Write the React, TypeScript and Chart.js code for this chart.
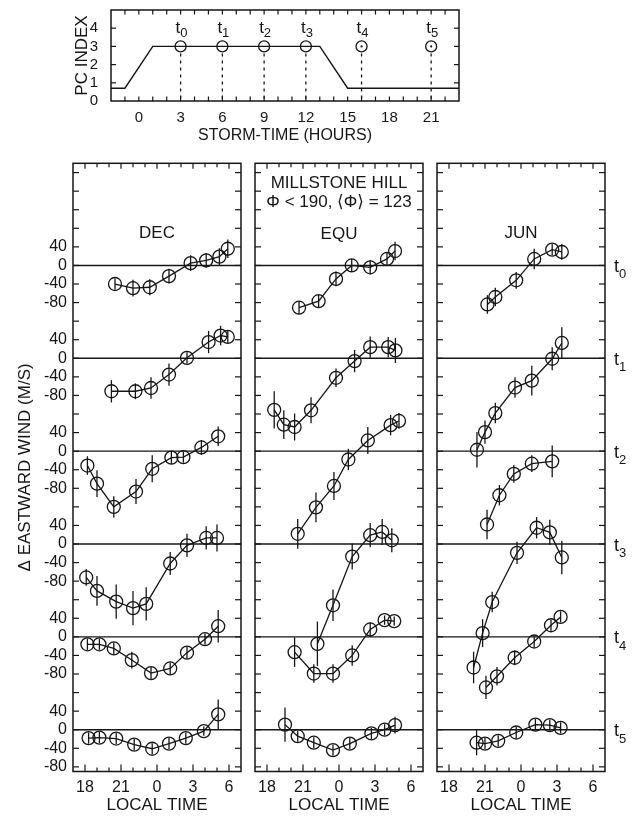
import React, { useEffect, useRef } from "react";
import { Chart, registerables } from "chart.js";

Chart.register(...registerables);

const FONT_FAMILY = '"Liberation Sans", Arial, Helvetica, "DejaVu Sans", sans-serif';
const INK = "#161616";

// ---------------- top panel: PC index vs storm time ----------------
const stormHours = [-2, -1, 1, 13, 15, 23];
const pcIndexValues = [0.7, 0.7, 3, 3, 0.7, 0.7];
const sampleHours = [3, 6, 9, 12, 16, 21];
const sampleIndex = [3, 3, 3, 3, 3, 3];
const sampleNames = ["0", "1", "2", "3", "4", "5"];
const sampleDotted = [false, false, false, false, true, true];
const stormTickValues = [0, 3, 6, 9, 12, 15, 18, 21];
const pcTickValues = [0, 1, 2, 3, 4];

// ---------------- bottom panels: delta eastward wind vs local time ----------------
const slotStep = 200; // vertical offset between stacked storm-time slots (m/s)
const slotNames = ["0", "1", "2", "3", "4", "5"];
const localTickValues = [18, 21, 24, 27, 30];
const windLabelValues = [40, 0, -40, -80];

const decHours = [
  [20.5, 22.0, 23.4, 25.0, 26.8, 28.1, 29.2, 29.9],
  [20.2, 22.2, 23.5, 25.0, 26.5, 28.3, 29.3, 29.9],
  [18.2, 19.0, 20.4, 22.25, 23.6, 25.2, 26.2, 27.7, 29.1],
  [18.1, 19.0, 20.6, 22.0, 23.1, 25.1, 26.5, 28.1, 29.0],
  [18.2, 19.2, 20.4, 21.9, 23.5, 25.1, 26.5, 28.0, 29.1],
  [18.3, 19.2, 20.6, 22.1, 23.6, 25.0, 26.4, 27.9, 29.1],
];
const decWind = [
  [-40, -49, -47, -23, 5, 11, 19, 36],
  [-71, -71, -64, -35, 1, 35, 49, 46],
  [-31, -70, -120, -87, -38, -14, -13, 8, 32],
  [-72, -101, -124, -138, -129, -42, -3, 13, 13],
  [-16, -16, -25, -50, -78, -68, -34, -5, 23],
  [-18, -17, -19, -32, -41, -30, -18, -3, 33],
];
const decErr = [
  [12, 18, 17, 16, 17, 16, 18, 20],
  [24, 17, 23, 24, 12, 24, 21, 14],
  [20, 29, 23, 27, 29, 14, 12, 16, 21],
  [18, 32, 37, 37, 36, 25, 25, 25, 29],
  [12, 12, 13, 18, 13, 13, 13, 12, 35],
  [12, 12, 12, 12, 12, 12, 12, 10, 32],
];

const equHours = [
  [20.67, 22.3, 23.75, 25.06, 26.6, 28.0, 28.67],
  [18.6, 19.4, 20.3, 21.67, 23.75, 25.3, 26.6, 28.1, 28.7],
  [20.56, 22.08, 23.58, 24.78, 26.4, 28.3, 29.0],
  [22.2, 23.5, 25.1, 26.6, 27.6, 28.4],
  [20.3, 21.9, 23.5, 25.1, 26.6, 27.8, 28.6],
  [19.5, 20.56, 21.9, 23.5, 24.9, 26.7, 27.8, 28.67],
];
const equWind = [
  [-91, -77, -29, 0, -4, 14, 31],
  [-111, -143, -148, -112, -42, -6, 24, 24, 17],
  [-178, -121, -75, -18, 23, 56, 65],
  [-215, -132, -27, 19, 26, 8],
  [-33, -79, -79, -40, 16, 36, 34],
  [11, -14, -28, -44, -30, -8, 0, 10],
];
const equErr = [
  [14, 14, 16, 14, 15, 14, 20],
  [40, 31, 29, 28, 20, 24, 23, 22, 27],
  [32, 32, 30, 23, 29, 22, 17],
  [48, 34, 28, 26, 28, 26],
  [32, 20, 20, 22, 15, 10, 10],
  [37, 12, 12, 12, 12, 12, 12, 18],
];

const junHours = [
  [21.2, 21.86, 23.6, 25.1, 26.6, 27.4],
  [20.33, 21.0, 21.86, 23.5, 24.9, 26.6, 27.4],
  [21.17, 22.2, 23.4, 24.9, 26.6],
  [20.05, 20.8, 21.6, 23.67, 25.3, 26.4, 27.4],
  [21.08, 22.0, 23.47, 25.1, 26.5, 27.3],
  [20.3, 21.0, 22.1, 23.6, 25.2, 26.4, 27.3],
];
const junWind = [
  [-84, -68, -32, 14, 34, 29],
  [-197, -159, -118, -63, -48, -1, 33],
  [-158, -95, -49, -27, -22],
  [-266, -192, -125, -19, 35, 25, -29],
  [-109, -85, -45, -10, 25, 43],
  [-28, -30, -24, -6, 11, 10, 4],
];
const junErr = [
  [20, 20, 18, 22, 12, 17],
  [38, 25, 22, 22, 32, 25, 34],
  [32, 22, 19, 18, 34],
  [34, 30, 22, 24, 23, 27, 36],
  [25, 20, 16, 12, 12, 12],
  [27, 12, 12, 12, 12, 12, 12],
];

const decNotes = ["DEC"];
const equNotes = ["MILLSTONE HILL", "\u03A6 < 190, \u27E8\u03A6\u27E9 = 123", "EQU"];
const junNotes = ["JUN"];

// ---------------- layout (page px) ----------------
const PAGE_W = 640;
const TOP_H = 150;
const BOTTOM_TOP = 150;
const BOTTOM_H = 666;

type Panel = {
  hours: number[][];
  wind: number[][];
  err: number[][];
  notes: string[];
  noteOffsets: number[];
  left: number;
  right: number;
  showAxis: boolean;
  showSlots: boolean;
};

const panels: Panel[] = [
  { hours: decHours, wind: decWind, err: decErr, notes: decNotes, noteOffsets: [70], left: 73, right: 241, showAxis: true, showSlots: false },
  { hours: equHours, wind: equWind, err: equErr, notes: equNotes, noteOffsets: [20, 39.5, 71.5], left: 255, right: 423, showAxis: false, showSlots: false },
  { hours: junHours, wind: junWind, err: junErr, notes: junNotes, noteOffsets: [70], left: 437, right: 605, showAxis: false, showSlots: true },
];

const font = (size: number) => ({ family: FONT_FAMILY, size, weight: "normal" as const });

function drawSubLabel(ctx: CanvasRenderingContext2D, x: number, yBase: number, sub: string, tSize: number, subSize: number, subDrop: number, align: "left" | "center") {
  ctx.save();
  ctx.fillStyle = INK;
  ctx.textBaseline = "alphabetic";
  ctx.textAlign = "left";
  ctx.font = `${tSize}px ${FONT_FAMILY}`;
  const tw = ctx.measureText("t").width;
  ctx.font = `${subSize}px ${FONT_FAMILY}`;
  const sw = ctx.measureText(sub).width;
  let x0 = x;
  if (align === "center") x0 = x - (tw + sw) / 2 + 1;
  ctx.font = `${tSize}px ${FONT_FAMILY}`;
  ctx.fillText("t", x0, yBase);
  ctx.font = `${subSize}px ${FONT_FAMILY}`;
  ctx.fillText(sub, x0 + tw, yBase + subDrop);
  ctx.restore();
}

function strokeLine(ctx: CanvasRenderingContext2D, x1: number, y1: number, x2: number, y2: number) {
  ctx.beginPath();
  ctx.moveTo(x1, y1);
  ctx.lineTo(x2, y2);
  ctx.stroke();
}

function noPadX(s: any) {
  s.paddingLeft = 0;
  s.paddingRight = 0;
}
function noPadY(s: any) {
  s.paddingTop = 0;
  s.paddingBottom = 0;
}

function topConfig(): any {
  const deco = {
    id: "topDeco",
    afterDatasetsDraw(chart: any) {
      const { ctx, chartArea: a, scales } = chart;
      const xs = scales.x;
      const ys = scales.y;
      ctx.save();
      ctx.strokeStyle = INK;
      ctx.lineWidth = 1.5;
      ctx.strokeRect(a.left, a.top, a.right - a.left, a.bottom - a.top);
      ctx.lineWidth = 1.2;
      for (let h = -1; h <= 22; h++) {
        const px = xs.getPixelForValue(h);
        strokeLine(ctx, px, a.top, px, a.top + 4.5);
        strokeLine(ctx, px, a.bottom, px, a.bottom - 4.5);
      }
      for (let v = 1; v <= 4; v++) {
        const py = ys.getPixelForValue(v);
        strokeLine(ctx, a.left, py, a.left + 5, py);
        strokeLine(ctx, a.right, py, a.right - 5, py);
      }
      // dotted drop lines from each sample circle
      ctx.setLineDash([3, 4]);
      ctx.lineWidth = 1.3;
      sampleHours.forEach((h, i) => {
        const px = xs.getPixelForValue(h);
        const py = ys.getPixelForValue(sampleIndex[i]);
        strokeLine(ctx, px, py + 7, px, a.bottom);
      });
      ctx.setLineDash([]);
      sampleHours.forEach((h, i) => {
        const px = xs.getPixelForValue(h);
        const py = ys.getPixelForValue(sampleIndex[i]);
        if (sampleDotted[i]) {
          ctx.fillStyle = INK;
          ctx.beginPath();
          ctx.arc(px, py, 1.1, 0, Math.PI * 2);
          ctx.fill();
        }
        drawSubLabel(ctx, px, py - 13, sampleNames[i], 17, 13, 3.5, "center");
      });
      ctx.restore();
    },
  };
  return {
    type: "line",
    data: {
      datasets: [
        {
          data: stormHours.map((h, i) => ({ x: h, y: pcIndexValues[i] })),
          borderColor: INK,
          borderWidth: 1.4,
          pointRadius: 0,
          tension: 0,
          fill: false,
        },
        {
          data: sampleHours.map((h, i) => ({ x: h, y: sampleIndex[i] })),
          showLine: false,
          pointRadius: 5.5,
          pointBorderWidth: 1.3,
          pointBorderColor: INK,
          pointBackgroundColor: "rgba(0,0,0,0)",
        },
      ],
    },
    options: {
      responsive: false,
      animation: false,
      devicePixelRatio: 1,
      events: [],
      layout: { padding: { left: 0, right: PAGE_W - 459, top: 10, bottom: 0 } },
      plugins: { legend: { display: false }, tooltip: { enabled: false } },
      scales: {
        x: {
          type: "linear",
          min: -2,
          max: 23,
          afterBuildTicks: (s: any) => {
            s.ticks = stormTickValues.map((v) => ({ value: v }));
          },
          afterFit: (s: any) => {
            s.height = TOP_H - 101;
            noPadX(s);
          },
          grid: { display: false, drawTicks: false },
          border: { display: false },
          ticks: { font: font(15), color: INK, padding: 8, maxRotation: 0, autoSkip: false },
          title: { display: true, text: "STORM-TIME (HOURS)", font: font(16), color: INK, padding: { top: 0, bottom: 5 } },
        },
        y: {
          type: "linear",
          min: 0,
          max: 5,
          afterBuildTicks: (s: any) => {
            s.ticks = pcTickValues.map((v) => ({ value: v }));
          },
          afterFit: (s: any) => {
            s.width = 111;
            noPadY(s);
          },
          grid: { display: false, drawTicks: false },
          border: { display: false },
          ticks: { font: font(15), color: INK, padding: 13, autoSkip: false },
          title: { display: true, text: "PC INDEX", font: font(17), color: INK, padding: { top: 72, bottom: 0 } },
        },
      },
    },
    plugins: [deco],
  };
}

function panelConfig(p: Panel): any {
  const deco = {
    id: "panelDeco",
    beforeDatasetsDraw(chart: any) {
      const { ctx, chartArea: a, scales } = chart;
      const xs = scales.x;
      const ys = scales.y;
      ctx.save();
      ctx.strokeStyle = INK;
      ctx.lineWidth = 1.4;
      for (let k = 0; k < slotNames.length; k++) {
        const py = ys.getPixelForValue(-slotStep * k);
        strokeLine(ctx, a.left, py, a.right, py);
      }
      ctx.lineWidth = 1.3;
      p.hours.forEach((hs, k) => {
        hs.forEach((h, i) => {
          const px = xs.getPixelForValue(h);
          const v = p.wind[k][i] - slotStep * k;
          const e = p.err[k][i];
          strokeLine(ctx, px, ys.getPixelForValue(v - e), px, ys.getPixelForValue(v + e));
        });
      });
      ctx.restore();
    },
    afterDatasetsDraw(chart: any) {
      const { ctx, chartArea: a, scales } = chart;
      const xs = scales.x;
      const ys = scales.y;
      ctx.save();
      ctx.strokeStyle = INK;
      ctx.lineWidth = 1.5;
      ctx.strokeRect(a.left, a.top, a.right - a.left, a.bottom - a.top);
      ctx.lineWidth = 1.2;
      for (let h = 18; h <= 30; h++) {
        const px = xs.getPixelForValue(h);
        const len = h % 3 === 0 ? 7 : 4;
        strokeLine(ctx, px, a.bottom, px, a.bottom - len);
        strokeLine(ctx, px, a.top, px, a.top + (h % 3 === 0 ? 5.5 : 4));
      }
      for (let v = -1080; v <= 200; v += 40) {
        const py = ys.getPixelForValue(v);
        strokeLine(ctx, a.left, py, a.left + 6, py);
        strokeLine(ctx, a.right, py, a.right - 6, py);
      }
      ctx.fillStyle = INK;
      ctx.textAlign = "center";
      ctx.textBaseline = "middle";
      ctx.font = `17px ${FONT_FAMILY}`;
      const cx = (a.left + a.right) / 2;
      p.notes.forEach((t, i) => {
        ctx.fillText(t, cx, a.top + p.noteOffsets[i]);
      });
      if (p.showSlots) {
        slotNames.forEach((s, k) => {
          const py = ys.getPixelForValue(-slotStep * k);
          drawSubLabel(ctx, a.right + 9, py + 6.5, s, 18, 13, 6.5, "left");
        });
      }
      ctx.restore();
    },
  };

  const windTicks: number[] = [];
  for (let k = 0; k < slotNames.length; k++) {
    windLabelValues.forEach((v) => windTicks.push(v - slotStep * k));
  }

  return {
    type: "line",
    data: {
      datasets: p.hours.map((hs, k) => ({
        data: hs.map((h, i) => ({ x: h, y: p.wind[k][i] - slotStep * k })),
        borderColor: INK,
        borderWidth: 1.3,
        pointRadius: 6.5,
        pointBorderWidth: 1.3,
        pointBorderColor: INK,
        pointBackgroundColor: "rgba(0,0,0,0)",
        tension: 0,
        fill: false,
      })),
    },
    options: {
      responsive: false,
      animation: false,
      devicePixelRatio: 1,
      events: [],
      layout: { padding: { left: 0, right: PAGE_W - p.right, top: 163.3 - BOTTOM_TOP, bottom: 0 } },
      plugins: { legend: { display: false }, tooltip: { enabled: false } },
      scales: {
        x: {
          type: "linear",
          min: 17,
          max: 31,
          afterBuildTicks: (s: any) => {
            s.ticks = localTickValues.map((v) => ({ value: v }));
          },
          afterFit: (s: any) => {
            s.height = BOTTOM_TOP + BOTTOM_H - 771.5;
            noPadX(s);
          },
          grid: { display: false, drawTicks: false },
          border: { display: false },
          ticks: {
            font: font(16),
            color: INK,
            padding: 6,
            maxRotation: 0,
            autoSkip: false,
            callback: (v: any) => String(Number(v) % 24),
          },
          title: { display: true, text: "LOCAL TIME", font: font(17), color: INK, padding: { top: 0, bottom: 0 } },
        },
        y: {
          type: "linear",
          min: -1090,
          max: 220,
          afterBuildTicks: (s: any) => {
            s.ticks = windTicks.map((v) => ({ value: v }));
          },
          afterFit: (s: any) => {
            s.width = p.left;
            noPadY(s);
          },
          grid: { display: false, drawTicks: false },
          border: { display: false },
          ticks: {
            display: p.showAxis,
            font: font(16),
            color: INK,
            padding: 6,
            autoSkip: false,
            callback: (v: any) => {
              const n = Number(v);
              const k = Math.round(-n / slotStep);
              return String(n + slotStep * k);
            },
          },
          title: {
            display: p.showAxis,
            text: "\u0394 EASTWARD WIND (M/S)",
            font: font(17),
            color: INK,
            padding: { top: 15, bottom: 0 },
          },
        },
      },
    },
    plugins: [deco],
  };
}

function ChartCanvas({ make, top, height }: { make: () => any; top: number; height: number }) {
  const ref = useRef<HTMLCanvasElement>(null);
  useEffect(() => {
    if (!ref.current) return;
    const chart = new Chart(ref.current, make());
    return () => chart.destroy();
  }, []);
  return (
    <canvas
      ref={ref}
      width={PAGE_W}
      height={height}
      style={{ position: "absolute", left: 0, top, width: PAGE_W, height, display: "block" }}
    />
  );
}

export default function App() {
  return (
    <div style={{ position: "absolute", left: 0, top: 0, width: PAGE_W, height: 816, background: "#ffffff", overflow: "hidden" }}>
      <ChartCanvas make={topConfig} top={0} height={TOP_H} />
      {panels.map((p, i) => (
        <ChartCanvas key={i} make={() => panelConfig(p)} top={BOTTOM_TOP} height={BOTTOM_H} />
      ))}
    </div>
  );
}
